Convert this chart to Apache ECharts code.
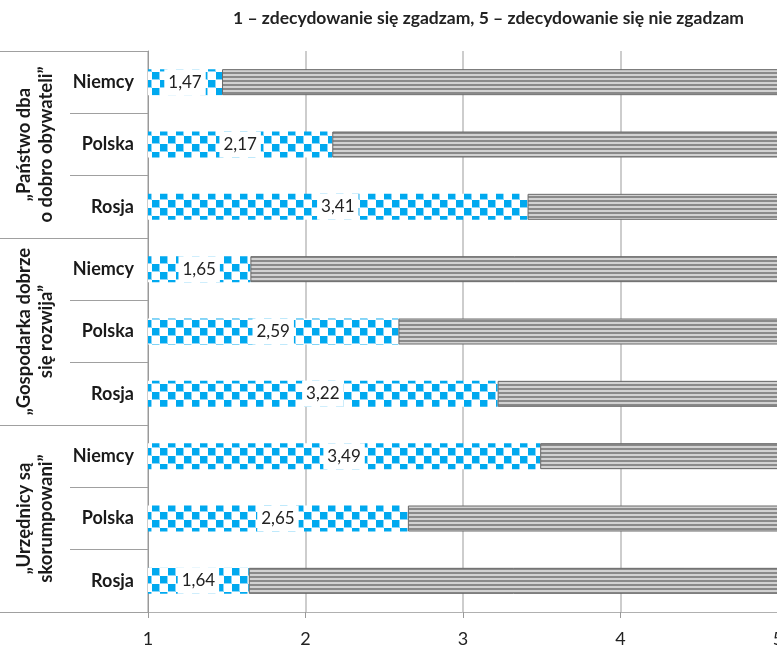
<!DOCTYPE html>
<html>
<head>
<meta charset="utf-8">
<script src="https://cdn.jsdelivr.net/npm/echarts@6/dist/echarts.min.js"></script>
<style>
	html, body { margin: 0; padding: 0; background: #fff; }
	#chart { width: 777px; height: 652px; }
</style>
</head>
<body>
<div id="chart"></div>
<script>
const groups = ['„Państwo dba\no dobro obywateli”', '„Gospodarka dobrze\nsię rozwija”', '„Urzędnicy są\nskorumpowani”'];
const countries = ['Niemcy', 'Polska', 'Rosja', 'Niemcy', 'Polska', 'Rosja', 'Niemcy', 'Polska', 'Rosja'];
const values = [1.47, 2.17, 3.41, 1.65, 2.59, 3.22, 3.49, 2.65, 1.64];
const scaleMin = 1;
const scaleMax = 5;

const FONT = 'Lato, "Open Sans", sans-serif';

/* wzór szachownicy */
const makeChecker = () => {
	const c = document.createElement('canvas');
	c.width = 16;
	c.height = 16;
	const ctx = c.getContext('2d');
	ctx.fillStyle = '#ffffff';
	ctx.fillRect(0, 0, 16, 16);
	ctx.fillStyle = '#8ed6f7';
	ctx.fillRect(0, 0, 8, 8);
	ctx.fillRect(8, 8, 8, 8);
	ctx.fillStyle = '#00a9ef';
	ctx.fillRect(0, 0, 7, 7);
	ctx.fillRect(8, 8, 7, 7);
	return c;
};

/* poziome paski */
const makeStripes = () => {
	const c = document.createElement('canvas');
	c.width = 4;
	c.height = 4;
	const ctx = c.getContext('2d');
	ctx.fillStyle = '#8a8a8a';
	ctx.fillRect(0, 0, 4, 2);
	ctx.fillStyle = '#d2d2d2';
	ctx.fillRect(0, 2, 4, 2);
	return c;
};

const chart = echarts.init(document.getElementById('chart'));

chart.setOption({
	animation: false,
	textStyle: { fontFamily: FONT },
	title: {
		text: '1 – zdecydowanie się zgadzam, 5 – zdecydowanie się nie zgadzam',
		left: 228,
		top: 4,
		textStyle: { fontFamily: FONT, fontSize: 17.5, fontWeight: 'bold', color: '#222' }
	},
	grid: {
		left: 148,
		right: -1,
		top: 51,
		bottom: 40,
		outerBoundsMode: 'none'
	},
	xAxis: {
		type: 'value',
		min: scaleMin,
		max: scaleMax,
		interval: 1,
		axisLine: { show: true, lineStyle: { color: '#b0b0b0' } },
		axisTick: { show: true, length: 6, lineStyle: { color: '#999' } },
		axisLabel: { fontSize: 18, color: '#222', margin: 18 },
		splitLine: { show: true, lineStyle: { color: '#bdbdbd', width: 1.5 } }
	},
	yAxis: [
		{
			type: 'category',
			data: countries,
			inverse: true,
			position: 'left',
			axisLine: { show: true, lineStyle: { color: '#999' } },
			axisTick: { show: true, length: 78, interval: 0, lineStyle: { color: '#a0a0a0' } },
			axisLabel: { fontSize: 18, fontWeight: 'bold', color: '#1a1a1a', margin: 14, interval: 0 }
		},
		{
			type: 'category',
			data: groups,
			inverse: true,
			position: 'left',
			offset: 0,
			axisLine: { show: false },
			axisTick: { show: true, length: 148, interval: 0, lineStyle: { color: '#a0a0a0' } },
			axisLabel: {
				rotate: 90,
				fontSize: 18.5,
				fontWeight: 'bold',
				color: '#1a1a1a',
				lineHeight: 22,
				align: 'center',
				margin: 91,
				interval: 0
			}
		}
	],
	series: [
		{
			type: 'bar',
			stack: 'ocena',
			silent: true,
			barWidth: 26,
			itemStyle: { color: 'transparent' },
			data: values.map(() => scaleMin)
		},
		{
			type: 'bar',
			stack: 'ocena',
			barWidth: 26,
			itemStyle: { color: { image: makeChecker(), repeat: 'repeat' } },
			label: {
				show: true,
				position: 'inside',
				formatter: p => values[p.dataIndex].toFixed(2).replace('.', ','),
				backgroundColor: '#ffffff',
				padding: [5, 4],
				fontSize: 17,
				lineHeight: 16,
				color: '#222'
			},
			data: values.map(v => v - scaleMin)
		},
		{
			type: 'bar',
			stack: 'ocena',
			barWidth: 26,
			itemStyle: {
				color: { image: makeStripes(), repeat: 'repeat' },
				borderColor: '#6a6a6a',
				borderWidth: 1
			},
			data: values.map(v => scaleMax - v)
		}
	]
});
</script>
</body>
</html>
